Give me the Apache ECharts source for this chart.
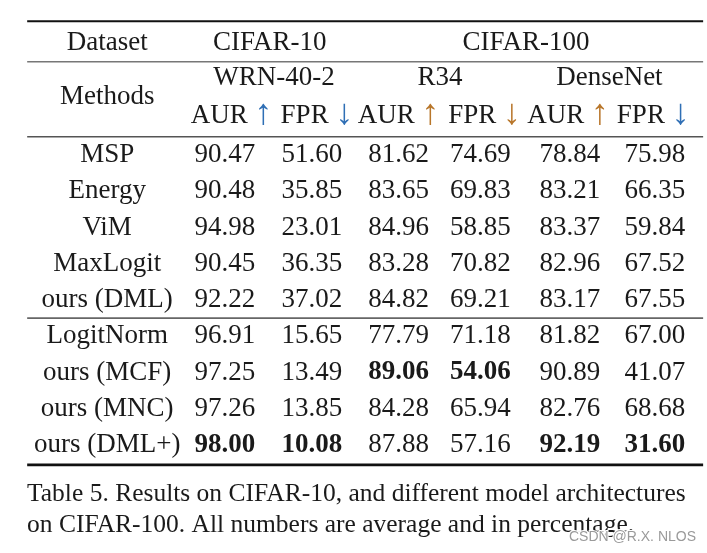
<!DOCTYPE html>
<html><head><meta charset="utf-8">
<script src="https://cdn.jsdelivr.net/npm/echarts@6/dist/echarts.min.js"></script>
<style>html,body{margin:0;padding:0;background:#fff}#c{width:707px;height:553px}</style>
</head><body><div id="c"></div>
<script>
// ---- data ----
const methods = ['MSP','Energy','ViM','MaxLogit','ours (DML)','LogitNorm','ours (MCF)','ours (MNC)','ours (DML+)'];
const wrnAUR  = ['90.47','90.48','94.98','90.45','92.22','96.91','97.25','97.26','98.00'];
const wrnFPR  = ['51.60','35.85','23.01','36.35','37.02','15.65','13.49','13.85','10.08'];
const r34AUR  = ['81.62','83.65','84.96','83.28','84.82','77.79','89.06','84.28','87.88'];
const r34FPR  = ['74.69','69.83','58.85','70.82','69.21','71.18','54.06','65.94','57.16'];
const dnAUR   = ['78.84','83.21','83.37','82.96','83.17','81.82','90.89','82.76','92.19'];
const dnFPR   = ['75.98','66.35','59.84','67.52','67.55','67.00','41.07','68.68','31.60'];
// bold cells: [column index 1..6, row index]
const boldCells = [[3,6],[4,6],[1,8],[2,8],[5,8],[6,8]];
const datasets = ['CIFAR-10','CIFAR-100'];
const archs = ['WRN-40-2','R34','DenseNet'];
const metricHdr = ['AUR','FPR','AUR','FPR','AUR','FPR'];
const arrowHdr = ['↑','↓','↑','↓','↑','↓'];
const caption = ['Table 5. Results on CIFAR-10, and different model architectures',
                 'on CIFAR-100. All numbers are average and in percentage.'];
const watermark = 'CSDN @R.X. NLOS';

// ---- layout (axis units: columns / rows) ----
const colX = [-0.37, 1.0, 2.01, 3.02, 3.97, 5.01, 6.0];
const hdrColX = [1.076, 2.07, 3.02, 4.02, 4.99, 5.98];
const arrowColor = ['b','b','o','o','o','b'];
const FONT = '"Liberation Serif","Times New Roman",serif';
const FS = 27;

const columns = [wrnAUR, wrnFPR, r34AUR, r34FPR, dnAUR, dnFPR];
const texts = [];
methods.forEach((m, r) => texts.push([colX[0], r, m, 0]));
columns.forEach((col, ci) => col.forEach((v, r) => {
  const b = boldCells.some(c => c[0] === ci + 1 && c[1] === r) ? 1 : 0;
  texts.push([colX[ci + 1], r, v, b]);
}));
texts.push([colX[0], -3.09, 'Dataset', 0]);
texts.push([colX[0], -1.6, 'Methods', 0]);
texts.push([1.52, -3.09, datasets[0], 0]);
texts.push([4.5, -3.09, datasets[1], 0]);
texts.push([1.57, -2.12, archs[0], 0]);
texts.push([3.5, -2.12, archs[1], 0]);
texts.push([5.47, -2.12, archs[2], 0]);
metricHdr.forEach((h, i) => texts.push([hdrColX[i], -1.07, '{t|' + h + ' }{' + arrowColor[i] + '|' + arrowHdr[i] + '}', 2]));

// rules: [x0, x1, y, width, color]
const rules = [
  [-1.30, 6.56, -3.69, 2.2, '#111'],
  [-1.30, 6.56, -2.57, 1.5, '#777'],
  [-1.30, 6.56, -0.50, 1.5, '#555'],
  [-1.30, 6.56, 4.50, 1.6, '#666'],
  [-1.30, 6.56, 8.55, 2.6, '#111']
];

const chart = echarts.init(document.getElementById('c'), null, {renderer: 'canvas'});
chart.setOption({
  animation: false,
  grid: {left: 0, right: 0, top: 0, bottom: 0},
  xAxis: {type: 'value', min: -1.616, max: 6.605, show: false},
  yAxis: {type: 'value', min: -4.276, max: 10.98, inverse: true, show: false},
  series: [
    {
      type: 'custom', coordinateSystem: 'cartesian2d', data: rules,
      renderItem: (p, api) => {
        const a = api.coord([api.value(0), api.value(2)]);
        const b = api.coord([api.value(1), api.value(2)]);
        const d = rules[p.dataIndex];
        return {type: 'line', shape: {x1: a[0], y1: a[1], x2: b[0], y2: b[1]}, style: {stroke: d[4], lineWidth: d[3]}};
      }
    },
    {
      type: 'custom', coordinateSystem: 'cartesian2d', data: texts,
      renderItem: (p, api) => {
        const d = texts[p.dataIndex];
        const c = api.coord([d[0], d[1]]);
        const style = {text: d[2], x: c[0], y: c[1], align: 'center', verticalAlign: 'middle',
          fill: '#1a1a1a', font: (d[3] === 1 ? 'bold ' : '') + FS + 'px ' + FONT};
        if (d[3] === 2) {
          style.rich = {
            t: {font: FS + 'px ' + FONT, fill: '#1a1a1a', verticalAlign: 'middle'},
            b: {font: '36px ' + FONT, fill: '#2f6fb5', verticalAlign: 'middle', padding: [0, 0, 3, 0]},
            o: {font: '36px ' + FONT, fill: '#b8762a', verticalAlign: 'middle', padding: [0, 0, 3, 0]}
          };
        }
        return {type: 'text', style: style};
      }
    }
  ],
  graphic: [
    {type: 'text', left: 27, top: 481, style: {text: caption[0], font: '25.5px ' + FONT, fill: '#1a1a1a'}},
    {type: 'text', left: 27, top: 512, style: {text: caption[1], font: '25.5px ' + FONT, fill: '#1a1a1a'}},
    {type: 'text', right: 10, top: 529, style: {text: watermark, font: '14px "Liberation Sans",Arial,sans-serif', fill: '#9a9a9a', stroke: '#fff', lineWidth: 2}}
  ]
});
</script></body></html>
